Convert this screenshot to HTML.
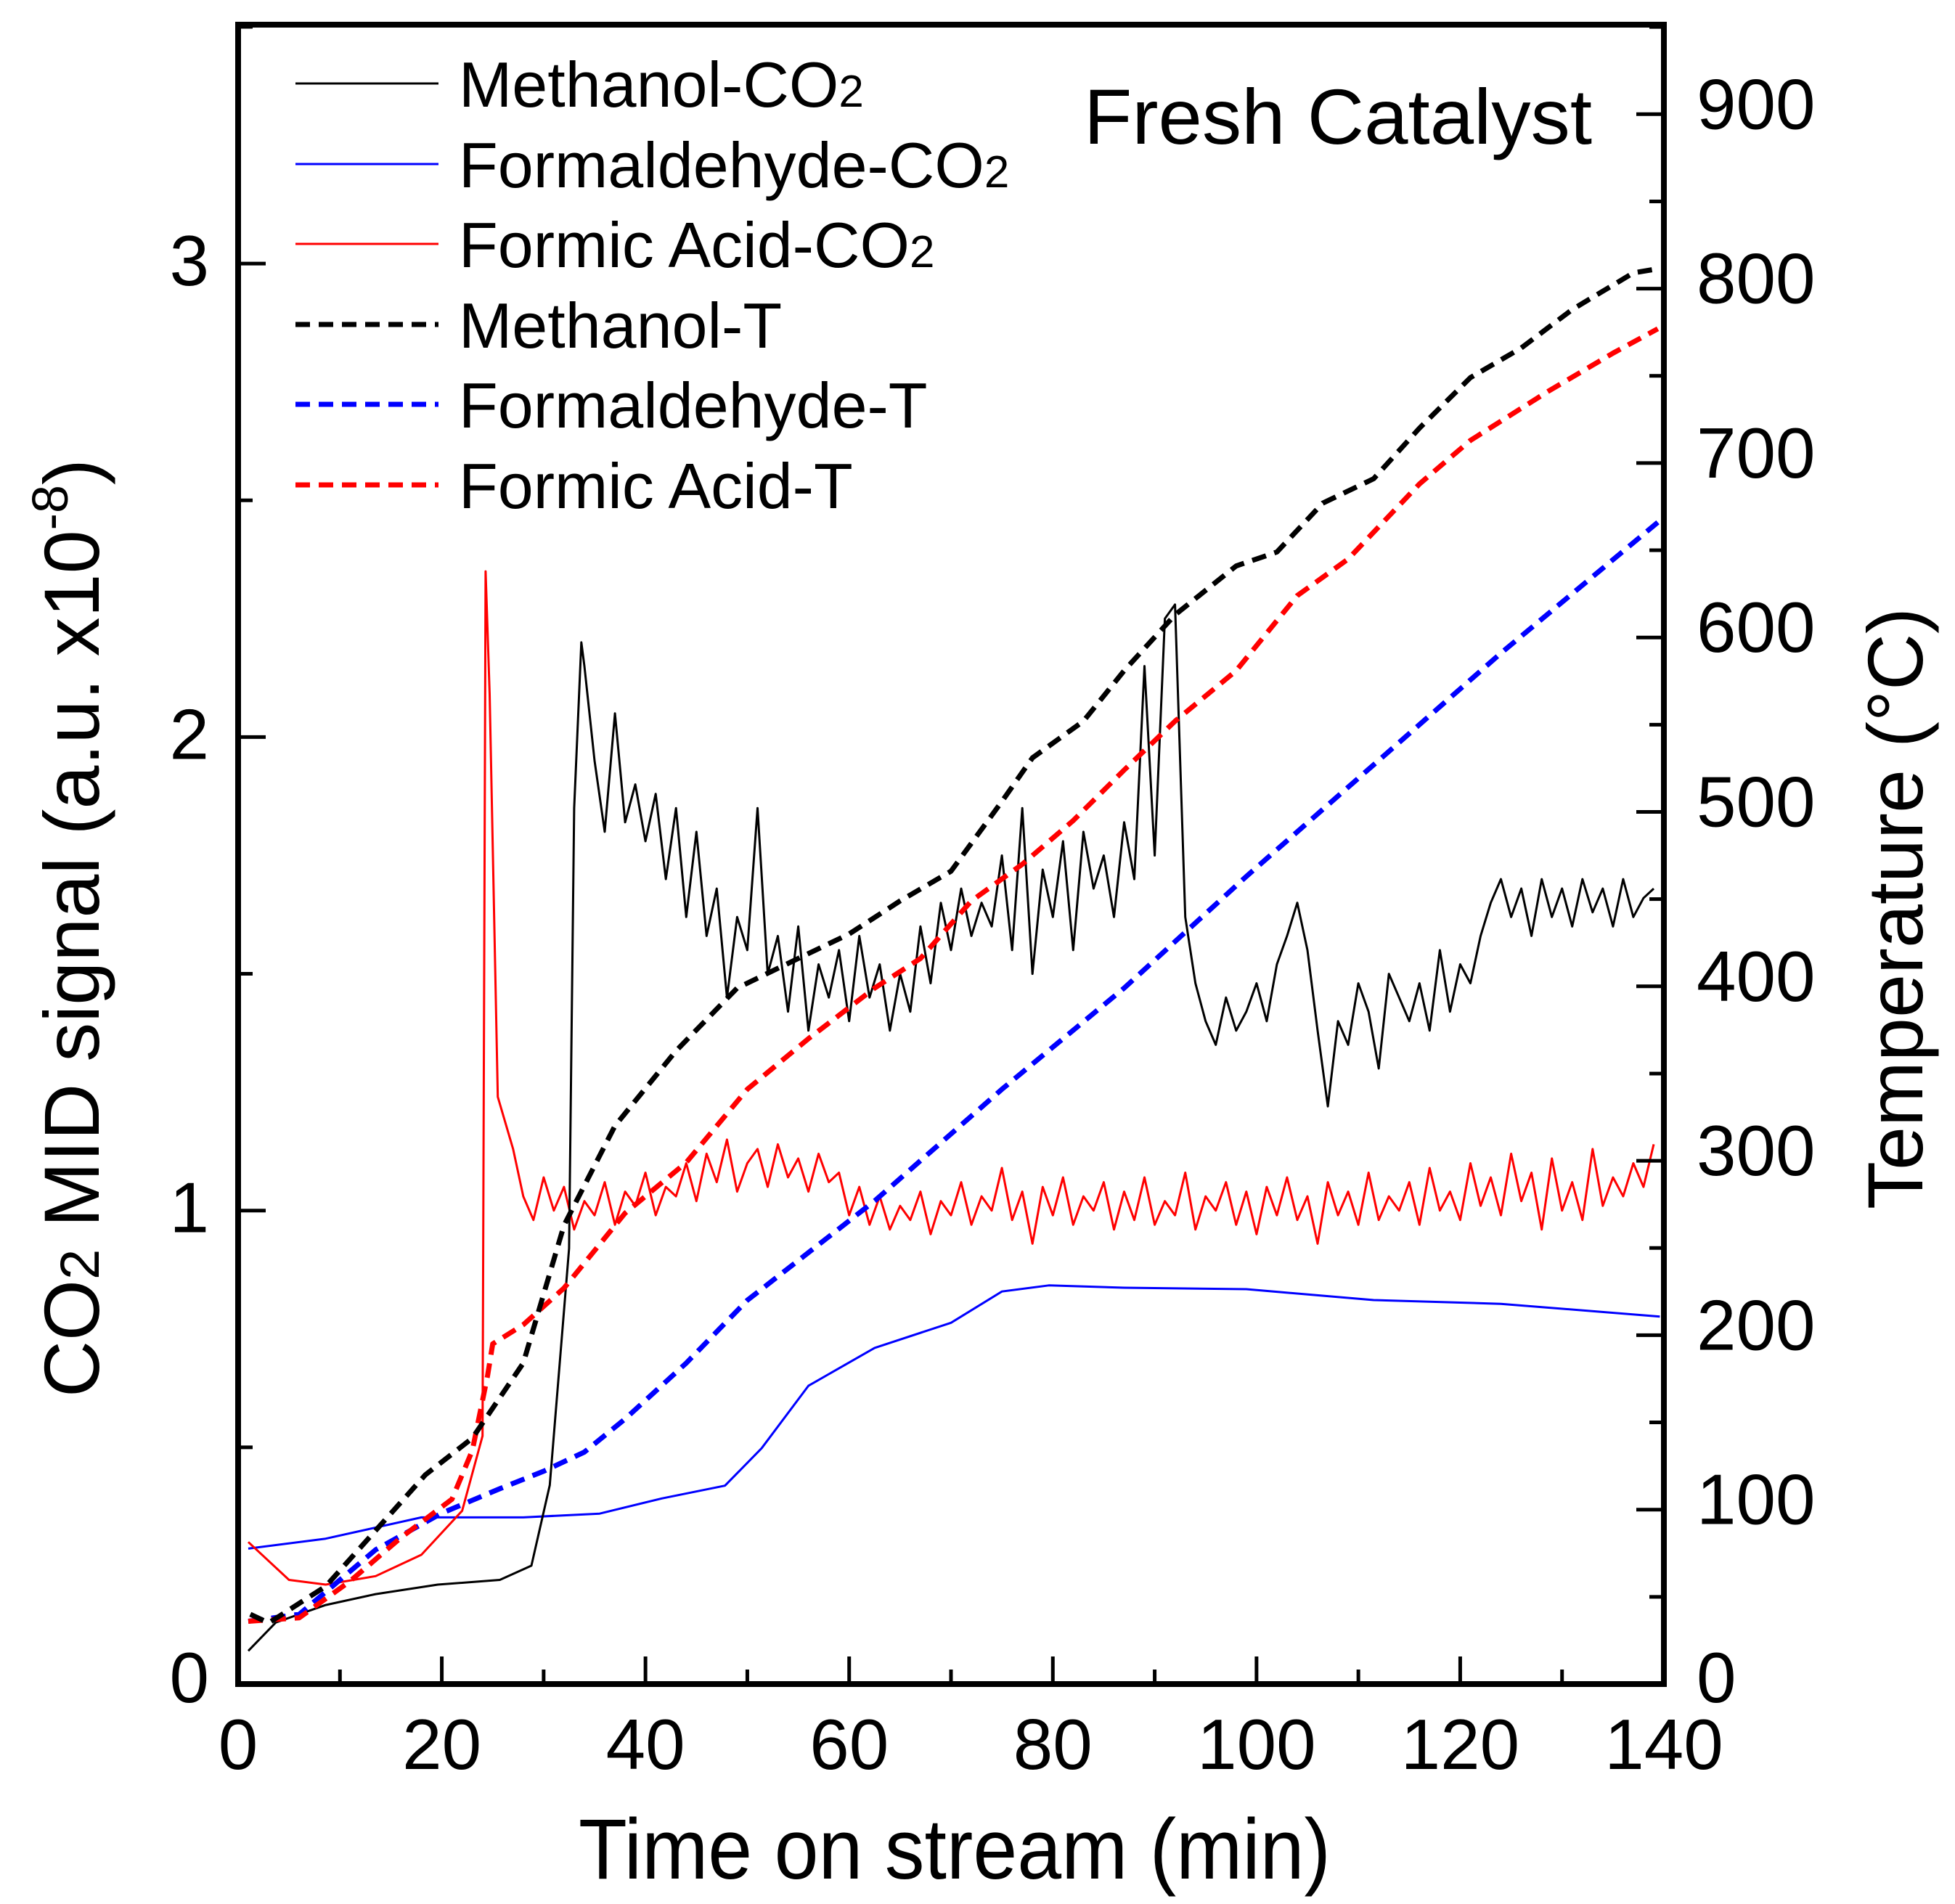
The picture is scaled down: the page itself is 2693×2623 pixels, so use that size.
<!DOCTYPE html>
<html><head><meta charset="utf-8"><style>
html,body{margin:0;padding:0;background:#fff;}
svg{display:block;font-family:"Liberation Sans",Arial,sans-serif;}
</style></head><body>
<svg id="chart" width="2693" height="2623" viewBox="0 0 2693 2623" xmlns="http://www.w3.org/2000/svg">
<rect width="2693" height="2623" fill="#fff"/>
<g id="series"></g>
<g id="axes"></g>
<text x="1493" y="198" font-size="108" textLength="700" lengthAdjust="spacingAndGlyphs">Fresh Catalyst</text>
<text x="797" y="2588" font-size="118" textLength="1036" lengthAdjust="spacingAndGlyphs">Time on stream (min)</text>
<text transform="translate(136,1925) rotate(-90)" font-size="108">CO<tspan font-size="76">2</tspan> MID signal (a.u. x10<tspan font-size="70" dy="-43">-8</tspan><tspan dy="43">)</tspan></text>
<text transform="translate(2648,1666) rotate(-90)" font-size="108" textLength="829" lengthAdjust="spacingAndGlyphs">Temperature (°C)</text>
<g id="legend"></g>
</svg>
<script>
// ---- data ----
const xTicks = [0,20,40,60,80,100,120,140];
const yLeftTicks = [0,1,2,3];
const yRightTicks = [0,100,200,300,400,500,600,700,800,900];

const methTempT = [1.2,3,8.6,13.5,18.4,23,28,32,37,43,49,55,60,65,70,75,78,83,87,92,98,102,106.5,111.5,116,121,126,131,137,139];
const methTempV = [40,35,56,88,120,141,184,263,320,363,399,416,430,449,466,506,531,552,581,613,641,649,677,691,720,749,766,788,809,811];

const formicTempT = [1,6,11,16,21,23,24.5,25,28,32,38,44,50,56,62.5,67,72,77,82,87,92,98,104,109,116,121,128.6,135,139.4];
const formicTempV = [36,38,59,84,106,134,177,195,206,227,270,299,341,370,399,416,449,470,495,524,552,581,624,645,688,713,741,763,777];

const formalTempT = [1,6,13.5,20,25.7,30,34,38,44,50,62.5,75,87,99,111.5,124,139.4];
const formalTempV = [36,40,77,98,112,122,133,152,184,220,277,341,399,463,527,591,666];

const formalCO2T = [1,8.6,18,23,28,35.5,41.6,47.8,51.4,56,62.5,70,75,79.6,87,99,111.5,124,139.6];
const formalCO2V = [0.286,0.307,0.352,0.352,0.352,0.36,0.392,0.419,0.498,0.63,0.71,0.763,0.829,0.842,0.837,0.834,0.811,0.803,0.776];

const formicCO2T = [1,5,8.6,13.5,18,22,24,24.3,24.7,25.5,27];
const formicCO2V = [0.3,0.22,0.21,0.228,0.273,0.366,0.524,2.35,2.09,1.24,1.13];
const formicNoiseStart = 28;
const formicNoiseV = [1.03,0.98,1.07,1.00,1.05,0.96,1.02,0.99,1.06,0.97,1.04,1.01,1.08,0.99,1.05,1.03,1.10,1.02,
1.12,1.06,1.15,1.04,1.10,1.13,1.05,1.14,1.07,1.11,1.04,1.12,1.06,
1.08,0.99,1.05,0.97,1.03,0.96,1.01,0.98,1.04,0.95,1.02,0.99,1.06,0.97,1.03,1.00,1.09,0.98,1.04,0.93,
1.05,0.99,1.07,0.97,1.03,1.00,1.06,0.96,1.04,0.98,1.07,0.97,1.02,0.99,1.08,0.96,1.03,1.00,1.06,0.97,
1.04,0.95,1.05,0.99,1.07,0.98,1.03,0.93,1.06,0.99,1.04,0.97,1.08,0.98,1.03,1.00,1.06,0.97,1.09,1.00,
1.04,0.98,1.10,1.01,1.07,0.99,1.12,1.02,1.08,0.96,1.11,1.00,1.06,0.98,1.13,1.01,1.07,1.03,1.10,1.05,1.14];

const methCO2T = [1,3.7,8.6,13.5,19.6,25.7,28.8,30.6,32.5,33,33.7];
const methCO2V = [0.07,0.13,0.167,0.19,0.21,0.22,0.25,0.42,0.92,1.85,2.2];
const methNoiseStart = 34;
const methNoiseV = [2.15,1.95,1.80,2.05,1.82,1.90,1.78,1.88,1.70,1.85,1.62,1.80,
1.58,1.68,1.45,1.62,1.55,1.85,1.50,1.58,1.42,1.60,1.38,1.52,1.45,
1.55,1.40,1.58,1.45,1.52,1.38,1.50,1.42,1.60,1.48,1.65,1.55,1.68,1.58,
1.65,1.60,1.75,1.55,1.85,1.50,1.72,1.62,1.78,1.55,1.80,1.68,1.75,1.62,1.82,1.70,2.15,1.75,2.25,2.28,
1.62,1.48,1.40,1.35,1.45,1.38,1.42,1.48,1.40,1.52,1.58,1.65,1.55,1.38,1.22,1.40,1.35,1.48,
1.42,1.30,1.50,1.45,1.40,1.48,1.38,1.55,1.42,1.52,1.48,1.58,1.65,1.70,1.62,1.68,1.58,1.70,1.62,1.68,1.60,1.70,1.63,1.68,1.60,1.70,1.62,1.66,1.68];

const legendLabels = ["Methanol-CO","Formaldehyde-CO","Formic Acid-CO","Methanol-T","Formaldehyde-T","Formic Acid-T"];

// ---- scales ----
const L=328,R=2292,T=34,B=2320;
const xs = t => L + (t/140)*(R-L);
const yl = v => B - v*652.3;
const yr = v => B - v*2.403;
const NS="http://www.w3.org/2000/svg";
function mk(tag, attrs, parent){const e=document.createElementNS(NS,tag);for(const k in attrs)e.setAttribute(k,attrs[k]);parent.appendChild(e);return e;}

const S=document.getElementById('series');
function line(ts,vs,ys,color,dash,name){
  const d=ts.map((t,i)=>(i?'L':'M')+xs(t).toFixed(1)+','+ys(vs[i]).toFixed(1)).join('');
  const p=mk('path',{d:d,fill:'none',stroke:color,'stroke-width':dash?7:3,'stroke-linejoin':'round'},S);
  if(dash)p.setAttribute('stroke-dasharray','20 12');
  
  
}
const fT=formicCO2T.concat(formicNoiseV.map((v,i)=>formicNoiseStart+i));
const fV=formicCO2V.concat(formicNoiseV);
const mT=methCO2T.concat(methNoiseV.map((v,i)=>methNoiseStart+i));
const mV=methCO2V.concat(methNoiseV);
line(formalCO2T,formalCO2V,yl,'#0000ff',false,'formaldehyde-co2-line');
line(fT,fV,yl,'#ff0000',false,'formic-acid-co2-line');
line(mT,mV,yl,'#000000',false,'methanol-co2-line');
line(formalTempT,formalTempV,yr,'#0000ff',true,'formaldehyde-t-line');
line(formicTempT,formicTempV,yr,'#ff0000',true,'formic-acid-t-line');
line(methTempT,methTempV,yr,'#000000',true,'methanol-t-line');

// ---- axes ----
const A=document.getElementById('axes');
const frame=mk('rect',{x:L,y:T,width:R-L,height:B-T,fill:'none',stroke:'#000','stroke-width':8},A);


xTicks.forEach(t=>{
  const x=xs(t);
  mk('line',{x1:x,y1:B,x2:x,y2:B-38,stroke:'#000','stroke-width':5},A);
  if(t<140){mk('line',{x1:xs(t+10),y1:B,x2:xs(t+10),y2:B-20,stroke:'#000','stroke-width':5},A);}
  const lb=mk('text',{x:x,y:2437,'font-size':98,'text-anchor':'middle'},A);
  lb.textContent=t;
  
  
});
yLeftTicks.forEach(v=>{
  const y=yl(v);
  mk('line',{x1:L,y1:y,x2:L+38,y2:y,stroke:'#000','stroke-width':5},A);
  if(v<3)mk('line',{x1:L,y1:yl(v+0.5),x2:L+20,y2:yl(v+0.5),stroke:'#000','stroke-width':5},A);
  const lb=mk('text',{x:288,y:y+(v===0?25:30),'font-size':98,'text-anchor':'end'},A);
  lb.textContent=v;
  
  
});
mk('line',{x1:L,y1:yl(3.5),x2:L+20,y2:yl(3.5),stroke:'#000','stroke-width':5},A);
yRightTicks.forEach(v=>{
  const y=yr(v);
  mk('line',{x1:R,y1:y,x2:R-38,y2:y,stroke:'#000','stroke-width':5},A);
  mk('line',{x1:R,y1:yr(v+50),x2:R-20,y2:yr(v+50),stroke:'#000','stroke-width':5},A);
  const lb=mk('text',{x:2337,y:y+(v===0?25:20),'font-size':98},A);
  lb.textContent=v;
  
  
});

// ---- legend ----
const G=document.getElementById('legend');
const lcol=['#000','#0000ff','#ff0000','#000','#0000ff','#ff0000'];
const rows=[117,228,338,449,559,670];
legendLabels.forEach((lab,i)=>{
  const y=rows[i];
  const sw=mk('line',{x1:407,y1:y-2,x2:604,y2:y-2,stroke:lcol[i],'stroke-width':i<3?3:7},G);
  if(i>=3)sw.setAttribute('stroke-dasharray','20 12');
  
  
  const tx=mk('text',{x:632,y:y+30,'font-size':88},G);
  tx.textContent=lab;
  if(i<3){const sub=mk('tspan',{'font-size':62},tx);sub.textContent='2';}
  
  
});
</script>
</body></html>
